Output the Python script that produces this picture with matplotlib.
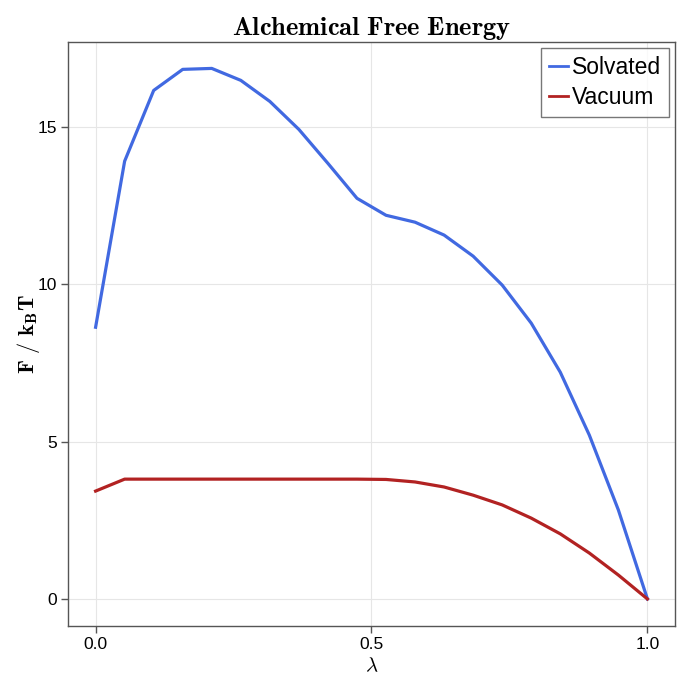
import numpy as np
import matplotlib
matplotlib.use("Agg")
import matplotlib.pyplot as plt

plt.rcParams['mathtext.fontset'] = 'cm'
plt.rcParams['font.family'] = ['Liberation Sans', 'DejaVu Sans']

lam = np.linspace(0, 1, 20)
solvated = [8.64, 13.92, 16.17, 16.84, 16.87, 16.49, 15.82, 14.93, 13.85, 12.74,
            12.20, 11.98, 11.57, 10.90, 9.98, 8.77, 7.21, 5.21, 2.83, 0.0]
vacuum = [3.43, 3.81, 3.81, 3.81, 3.81, 3.81, 3.81, 3.81, 3.81, 3.81,
          3.80, 3.72, 3.56, 3.30, 2.99, 2.57, 2.07, 1.46, 0.76, 0.0]

fig = plt.figure(figsize=(6.9, 6.9), dpi=100)
ax = fig.add_axes([68/690, 64/690, 607/690, 584/690])

ax.plot(lam, solvated, color='#4169E1', lw=2.3, label='Solvated')
ax.plot(lam, vacuum, color='#B22222', lw=2.3, label='Vacuum')

ax.set_xlim(-0.05, 1.05)
ax.set_ylim(-0.86, 17.71)
ax.set_xticks([0.0, 0.5, 1.0])
ax.set_xticklabels(['0.0', '0.5', '1.0'])
ax.set_yticks([0, 5, 10, 15])
ax.grid(True, color='#e6e6e6', lw=0.8)
ax.set_axisbelow(True)
for s in ax.spines.values():
    s.set_color('#555555')
    s.set_linewidth(1.0)
ax.tick_params(direction='out', length=5, width=1, color='#555555', labelsize=12.5, pad=3)

ax.set_title(r'$\mathbf{Alchemical\ Free\ Energy}$', fontsize=19, pad=5)
ax.set_xlabel(r'$\lambda$', fontsize=15, labelpad=3)
ax.set_ylabel(r'$\mathbf{F\ /\ k_B T}$', fontsize=16, labelpad=-3)

leg = ax.legend(loc='upper right', fontsize=16.5, frameon=True, fancybox=False,
                edgecolor='#555555', handlelength=0.8, handletextpad=0.2,
                borderpad=0.35, labelspacing=0.3, borderaxespad=0.25)
leg.get_frame().set_linewidth(1.0)
for h in leg.get_lines():
    h.set_linewidth(2.0)

fig.savefig('out.png', dpi=100)
